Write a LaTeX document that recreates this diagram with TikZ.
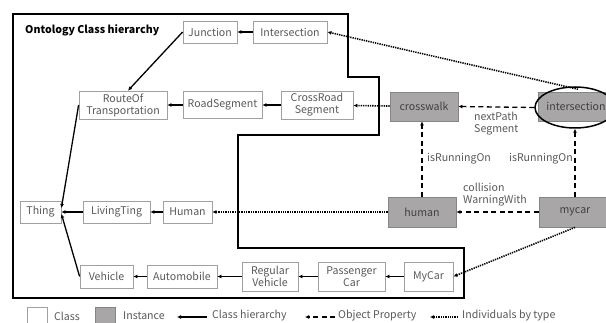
\documentclass[tikz,border=0pt]{standalone}
\usepackage{fontspec}
\setmainfont{Noto Sans CJK JP}
\usetikzlibrary{arrows.meta,shapes.geometric}
\definecolor{clsline}{HTML}{A0A0A0}
\definecolor{clstext}{HTML}{595959}
\definecolor{instfill}{HTML}{A8A6A6}
\definecolor{instline}{HTML}{858585}
\definecolor{insttext}{HTML}{404040}
\begin{document}
\begin{tikzpicture}[x=1pt,y=-1pt,
  txt/.style={font=\fontsize{10.6}{12}\selectfont},
  cls/.style={txt, draw=clsline, line width=0.8pt, text=clstext, inner sep=1pt, align=center, minimum height=22pt},
  inst/.style={txt, draw=instline, fill=instfill, line width=0.8pt, text=insttext, inner sep=1pt, minimum height=29pt},
  lbl/.style={txt, text=clstext, align=left, inner sep=0pt},
  hier/.style={line width=1.3pt, -{Latex[length=4pt,width=4pt]}},
  prop/.style={line width=1.3pt, dash pattern=on 5pt off 3.5pt, -{Latex[length=4pt,width=4pt]}},
  bytype/.style={line width=1.6pt, dash pattern=on 1.3pt off 1pt, -{Latex[length=4pt,width=4pt]}},
  frame/.style={line width=1.7pt, line join=miter},
]
\useasboundingbox[fill=white] (0,0) rectangle (606,323);

% outer frame
\draw[frame] (13,14) -- (348,14) -- (348,77) -- (379,77) -- (379,135) -- (238,135)
  -- (238,248) -- (464,248) -- (464,298) -- (13,298) -- cycle;
\node[txt, font=\fontsize{10.6}{12}\selectfont\bfseries, anchor=west, inner sep=0pt] (title) at (25,30) {Ontology Class hierarchy};

% classes
\node[cls, minimum width=54pt] (junc) at (210,32) {Junction};
\node[cls, minimum width=74pt] (inter) at (290,32) {Intersection};
\node[cls, minimum width=88pt, minimum height=28pt] (route) at (123,105) {RouteOf\\Transportation};
\node[cls, minimum width=79pt, minimum height=27pt] (road) at (222.5,105) {RoadSegment};
\node[cls, minimum width=72pt, minimum height=28pt] (cross) at (317,105) {CrossRoad\\Segment};
\node[cls, minimum width=41pt] (thing) at (40.5,212) {Thing};
\node[cls, minimum width=67pt] (living) at (116.5,212) {LivingTing};
\node[cls, minimum width=49pt] (humanc) at (187.5,212) {Human};
\node[cls, minimum width=53pt, minimum height=23pt] (vehicle) at (106.5,276.5) {Vehicle};
\node[cls, minimum width=70pt, minimum height=23pt] (auto) at (182,276.5) {Automobile};
\node[cls, minimum width=56pt, minimum height=29pt] (regular) at (270,276.5) {Regular\\Vehicle};
\node[cls, minimum width=67pt, minimum height=29pt] (passenger) at (351.5,276.5) {Passenger\\Car};
\node[cls, minimum width=49pt, minimum height=29pt] (mycarc) at (428.5,276.5) {MyCar};

% instances
\node[inst, minimum width=76pt] (interi) at (576,106.5) {intersection};
\node[inst, minimum width=68pt] (crosswalk) at (424,106.5) {crosswalk};
\node[ellipse, draw, line width=1.5pt, minimum width=80pt, minimum height=41pt] (ell) at (575,107.5) {};
\node[inst, minimum width=68pt, minimum height=30pt] (humani) at (422,212) {human};
\node[inst, minimum width=72pt, minimum height=30pt] (mycari) at (575,212) {mycar};

% class hierarchy
\draw[hier] (inter) -- (junc);
\draw[hier] (junc.west) -- ([xshift=5pt]route.north);
\draw[hier] (road) -- (route);
\draw[hier] (cross) -- (road);
\draw[hier] (route.west) -- ([yshift=4pt]thing.east);
\draw[hier] (living) -- (thing);
\draw[hier] (humanc) -- (living);
\draw[hier] (vehicle.west) -- ([yshift=-2pt]thing.east);
\draw[hier] (auto) -- (vehicle);
\draw[hier] (regular) -- (auto);
\draw[hier] (passenger) -- (regular);
\draw[hier] (mycarc) -- (passenger);

% individuals by type
\draw[bytype] ([xshift=3pt,yshift=-3pt]ell.north) -- (inter.east);
\draw[bytype] (crosswalk) -- (cross);
\draw[bytype] (humani) -- (humanc);
\draw[bytype] (mycari.south) -- (mycarc.east);

% object properties
\draw[prop] (ell.west) -- (crosswalk.east);
\draw[prop] (humani.north) -- (humani.north |- crosswalk.south);
\draw[prop] (mycari.north) -- (ell.south);
\draw[prop] (mycari) -- (humani);

\node[lbl, anchor=north west] (lnext) at (474,112) {nextPath\\Segment};
\node[lbl, anchor=west] (lrun1) at (427,159) {isRunningOn};
\node[lbl, anchor=east] (lrun2) at (573,159) {isRunningOn};
\node[lbl, anchor=west] (lcoll) at (463,195) {collision\\WarningWith};

% legend
\node[draw=clsline, line width=0.8pt, minimum width=20pt, minimum height=18pt, inner sep=0pt] (legcls) at (37,316) {};
\node[lbl, anchor=west] (legclst) at (54,316) {Class};
\node[draw=instline, fill=instfill, line width=0.8pt, minimum width=20pt, minimum height=18pt, inner sep=0pt] (leginst) at (105,316) {};
\node[lbl, anchor=west] (leginstt) at (123,316) {Instance};
\coordinate (h1) at (207,317);
\coordinate (h2) at (177,317);
\draw[hier] (h1) -- (h2);
\node[lbl, anchor=west] (leghier) at (212,316) {Class hierarchy};
\coordinate (p1) at (335,317);
\coordinate (p2) at (305,317);
\draw[prop] (p1) -- (p2);
\node[lbl, anchor=west] (legprop) at (338,316) {Object Property};
\coordinate (t1) at (458,317);
\coordinate (t2) at (430,317);
\draw[bytype] (t1) -- (t2);
\node[lbl, anchor=west] (legtype) at (462,316) {Individuals by type};
\end{tikzpicture}
\end{document}
